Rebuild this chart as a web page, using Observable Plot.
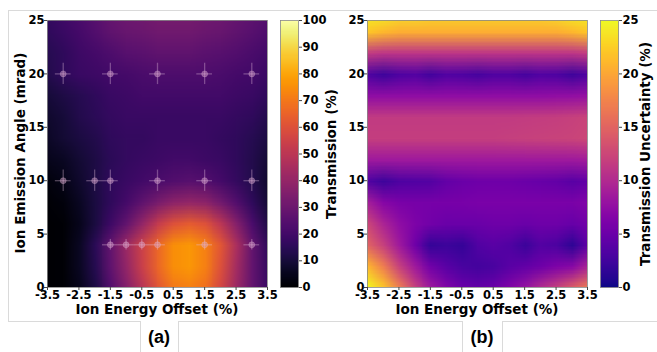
<!DOCTYPE html>
<html><head><meta charset="utf-8">
<script src="https://cdn.jsdelivr.net/npm/d3@7"></script>
<script src="https://cdn.jsdelivr.net/npm/@observablehq/plot@0.6"></script>
<style>
body{margin:0;background:#fff;}
#fig{position:relative;width:657px;height:352px;overflow:hidden;background:#fff;}
.pane{position:absolute;top:0;}
.ttl{position:absolute;font:bold 13.5px "DejaVu Sans";white-space:nowrap;color:#000;line-height:1;}
.rot{transform:translate(-50%,-50%) rotate(-90deg);}
.hz{transform:translate(-50%,0);}
.pl{position:absolute;font:bold 18px "Liberation Sans",Arial,sans-serif;color:#000;transform:translate(-50%,0);line-height:1;}
.ln{position:absolute;background:#dadada;}
</style></head>
<body><div id="fig"></div>
<script>
// ---- data ----
const xCols = [-3.5,-3,-2.5,-2,-1.5,-1,-0.5,0,0.5,1,1.5,2,2.5,3,3.5];
const yRows = [26,24,22,20,18,16,14,12,10,8,6,4,2,0];
const transmission = [
 17,20,23,26,29,31,32,33,33,33,32,31,29,27,25,
 16,18,21,24,27,29,30,31,31,31,30,29,27,25,23,
 14,16,19,21,23,25,26,27,27,27,26,25,24,22,20,
 13,16,18,19,20,21,22,23,23,23,23,22,21,20,18,
 10,12,14,16,18,19,20,20,20,20,20,20,19,18,16,
  8,10,13,15,17,18,18,18,18,18,18,18,17,16,13,
  7, 9,11,13,16,17,17,18,18,18,18,17,16,14,11,
  5, 6, 9,12,15,17,18,19,20,20,19,18,16,13, 9,
  2, 4, 8,12,16,18,20,22,24,25,24,21,17,13, 8,
  1, 2, 6,11,16,21,27,33,38,40,38,32,24,16, 9,
  0, 1, 5,11,19,28,40,52,60,63,60,50,36,22,12,
  0, 1, 6,15,28,42,55,66,75,77,72,62,46,28,16,
  0, 1, 6,14,27,40,54,66,75,77,72,60,44,28,17,
  0, 1, 5,12,24,36,49,61,70,72,68,57,42,28,18
];
const uncertainty = [
 26,25,24,24,23.5,23.5,23.5,23.5,23.5,23.5,23.5,23.5,24,25,26,
 22,21,20.5,20.5,20.5,20.5,20.5,20.5,20.5,20.5,20.5,20.5,20.5,21,22,
 11.5,11,11,11,11,11,11,11,11,11,11,11,11,11,11.5,
 3.4,2.3,3.3,3.6,2.6,3.5,3.3,2.8,3.4,3.4,2.8,3.5,3.3,2.4,3.4,
 7.5,7.5,7.5,7.5,7.5,7.5,7.5,7.5,7.5,7.5,7.5,7.5,7.6,7.7,7.9,
 11.5,11.5,11.5,11.5,11.5,11.5,11.5,11.5,11.5,11.5,11.6,11.7,11.8,12,12.3,
 11.8,11.8,11.8,11.8,11.8,11.8,11.8,11.8,11.8,11.9,12,12.1,12.2,12.3,12.5,
 8.5,8.5,8.5,8.5,8.5,8.5,8.5,8.5,8.5,8.5,8.5,8.5,8.5,8.5,8.7,
 3.5,2.3,3.3,3.5,3.6,4.5,5,5.2,5.3,5.2,5,4.8,4.5,4,4.5,
 9,6.8,6,5.8,5.8,5.8,5.9,6,6,6,6,6,6,6,6.5,
 12.5,9.5,7.5,6.2,5.5,5,5,5,5.2,5.2,5,5.2,5.2,4.8,5.5,
 15,12,8.5,5.2,1.8,2.2,1.8,3.5,4,3.5,2.2,3.6,3.2,1.4,4.5,
 21,17,12,8.5,5.5,4,3,2.7,3,4,4.5,5.2,6.3,7,9.5,
 25,22,17,12,8.5,6.5,5,4.5,5,6.5,8,10,12,14.5,17
];
const xTicks = [-3.5,-2.5,-1.5,-0.5,0.5,1.5,2.5,3.5];
const yTicks = [0,5,10,15,20,25];
const transTicks = [0,10,20,30,40,50,60,70,80,90,100];
const uncTicks = [0,5,10,15,20,25];
const measX = [-3,-1.5,0,1.5,3, -3,-2,-1.5,0,1.5,3, -1.5,-1,-0.5,0,1.5,3];
const measY = [20,20,20,20,20, 10,10,10,10,10,10, 4,4,4,4,4,4];
const measErrX = [0.25,0.25,0.25,0.25,0.25, 0.25,0.25,0.25,0.25,0.25,0.25, 0.25,0.25,0.25,0.25,0.25,0.25];
const measErrY = [1,1,1,1,1, 1,1,1,1,1,1, 0.5,0.5,0.5,0.5,0.5,0.5];

const meas = measX.map((x,i)=>({x, y: measY[i], ex: measErrX[i], ey: measErrY[i]}));
const stepX = xCols[1]-xCols[0], stepY = yRows[0]-yRows[1];
const gx1 = xCols[0]-stepX/2, gx2 = xCols[xCols.length-1]+stepX/2;
const gy1 = yRows[0]+stepY/2, gy2 = yRows[yRows.length-1]-stepY/2;

const fig = document.getElementById("fig");
const baseStyle = {fontFamily:"DejaVu Sans", fontSize:"11.5px", fontWeight:"bold", color:"#000", background:"transparent", overflow:"visible"};

function heat(values, scheme, cmax, withPoints){
  const marks = [
    Plot.raster(values, {width: xCols.length, height: yRows.length, x1: gx1, x2: gx2, y1: gy1, y2: gy2, clip: true}),
    Plot.frame({stroke:"#888", strokeWidth:0.8}),
    Plot.axisX({ticks: xTicks, tickFormat: d=>d.toFixed(1), tickSize:3, tickPadding:0, stroke:"#444", label:null}),
    Plot.axisY({ticks: yTicks, tickFormat: d=>String(d), tickSize:3, tickPadding:0, stroke:"#444", label:null})
  ];
  if (withPoints){
    marks.push(
      Plot.ruleY(meas, {y:"y", x1:d=>d.x-d.ex, x2:d=>d.x+d.ex, stroke:"#e9c3e0", strokeOpacity:0.35, strokeWidth:1.3}),
      Plot.ruleX(meas, {x:"x", y1:d=>d.y-d.ey, y2:d=>d.y+d.ey, stroke:"#e9c3e0", strokeOpacity:0.35, strokeWidth:1.3}),
      Plot.dot(meas, {x:"x", y:"y", r:3, fill:"#d9a3cc", fillOpacity:0.45, stroke:"#e9c3e0", strokeOpacity:0.3, strokeWidth:0.8})
    );
  }
  return Plot.plot({
    width:275, height:320, marginLeft:47, marginRight:8, marginTop:20, marginBottom:33,
    style: baseStyle,
    x:{domain:[-3.5,3.5]}, y:{domain:[0,25]},
    color:{type:"linear", scheme, domain:[0,cmax], clamp:true},
    marks
  });
}
function colorbar(scheme, cmax, ticks){
  return Plot.plot({
    width:54, height:320, marginLeft:0, marginRight:36, marginTop:20, marginBottom:33,
    style: baseStyle,
    x:{domain:[0,1], axis:null}, y:{domain:[0,cmax]},
    color:{type:"linear", scheme, domain:[0,cmax], clamp:true},
    marks:[
      Plot.raster({fill:(x,y)=>y, x1:0, x2:1, y1:0, y2:cmax, pixelSize:1}),
      Plot.frame({stroke:"#888", strokeWidth:0.8}),
      Plot.axisY({anchor:"right", ticks, tickFormat:d=>String(d), tickSize:3, tickPadding:1, stroke:"#444", label:null})
    ]
  });
}
function place(node, left){ node.classList.add("pane"); node.style.left = left+"px"; fig.appendChild(node); }
function line(l,t,w,h){ const d=document.createElement("div"); d.className="ln"; Object.assign(d.style,{left:l+"px",top:t+"px",width:w+"px",height:h+"px"}); fig.appendChild(d); }
function text(cls, str, l, t){ const d=document.createElement("div"); d.className=cls; d.textContent=str; d.style.left=l+"px"; d.style.top=t+"px"; fig.appendChild(d); }

// table lines
line(8,10,649,1); line(8,10,1,311);
line(8,321,132,1); line(178,321,284,1); line(502,321,155,1);
line(140,321,1,31); line(178,321,1,31); line(462,321,1,31); line(502,321,1,31);

place(heat(transmission, "inferno", 100, true), 0);
place(colorbar("inferno", 100, transTicks), 280);
place(heat(uncertainty, "plasma", 25, false), 320);
place(colorbar("plasma", 25, uncTicks), 600);

text("ttl rot", "Ion Emission Angle (mrad)", 21, 153);
text("ttl hz", "Ion Energy Offset (%)", 157, 303);
text("ttl hz", "Ion Energy Offset (%)", 477, 303);
text("ttl rot", "Transmission (%)", 332, 154);
text("ttl rot", "Transmission Uncertainty (%)", 646, 154);
text("pl", "(a)", 159, 328);
text("pl", "(b)", 482, 328);
</script>
</body></html>
